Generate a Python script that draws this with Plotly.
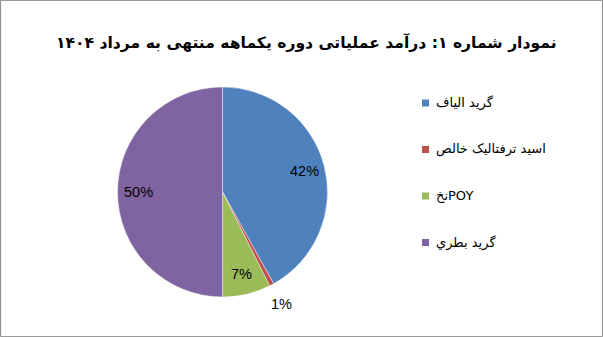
import math
import plotly.graph_objects as go

categories = ["گرید الیاف", "اسید ترفتالیک خالص", "نخPOY", "گرید بطري"]
values = [41.9, 0.7, 7.4, 50.0]
colors = ["#4F81BD", "#C0504D", "#9BBB59", "#8064A2"]
label_inside = [True, False, True, True]
title_text = "نمودار شماره ۱: درآمد عملیاتی دوره یکماهه منتهی به مرداد ۱۴۰۴"

W, H = 603, 337
# pie placement (pixels)
px0, px1, py0, py1 = 117, 328, 87, 297
cx, cy = (px0 + px1) / 2, (py0 + py1) / 2
R = (px1 - px0) / 2

fig = go.Figure()
fig.add_trace(go.Pie(
    labels=categories,
    values=values,
    sort=False,
    direction="clockwise",
    rotation=0,
    marker=dict(colors=colors, line=dict(color="rgba(255,255,255,0.6)", width=0.7)),
    textinfo="none",
    domain=dict(x=[px0 / W, px1 / W], y=[(H - py1) / H, (H - py0) / H]),
    showlegend=False,
    hoverinfo="label+percent",
))

annotations = [dict(
    text="<b>" + title_text + "</b>",
    x=306 / W, y=1 - 43 / H, xref="paper", yref="paper",
    xanchor="center", yanchor="middle", showarrow=False,
    font=dict(family="DejaVu Sans", size=15.6, color="#000000"),
)]

# data labels placed at slice mid-angles
total = sum(values)
cum = 0.0
for v, inside in zip(values, label_inside):
    mid = (cum + v / 2) / total * 2 * math.pi
    cum += v
    rf = 0.8 if inside else 1.2
    lx = cx + rf * R * math.sin(mid)
    ly = cy - rf * R * math.cos(mid)
    annotations.append(dict(
        text=f"{round(v / total * 100)}%", x=lx / W, y=1 - ly / H,
        xref="paper", yref="paper", xanchor="center", yanchor="middle",
        showarrow=False,
        font=dict(family="Liberation Sans, Arial", size=14.5, color="#000000"),
    ))

shapes = [dict(type="rect", xref="paper", yref="paper", x0=0.001, x1=0.999, y0=0.001, y1=0.999,
               line=dict(color="#888888", width=1), fillcolor="rgba(0,0,0,0)")]

legend_top = 103
legend_step = 46.5
for i, (cat, col) in enumerate(zip(categories, colors)):
    yc = legend_top + i * legend_step
    shapes.append(dict(type="rect", xref="paper", yref="paper",
                       x0=422 / W, x1=429 / W, y0=1 - (yc + 3.5) / H, y1=1 - (yc - 3.5) / H,
                       line=dict(width=0), fillcolor=col))
    annotations.append(dict(
        text=cat, x=434 / W, y=1 - yc / H, xref="paper", yref="paper",
        xanchor="left", yanchor="middle", showarrow=False,
        font=dict(family="DejaVu Sans", size=13, color="#000000"),
    ))

fig.update_layout(
    width=W, height=H,
    margin=dict(l=0, r=0, t=0, b=0),
    paper_bgcolor="#FFFFFF",
    plot_bgcolor="#FFFFFF",
    annotations=annotations,
    shapes=shapes,
)

fig.write_html("out.html")
